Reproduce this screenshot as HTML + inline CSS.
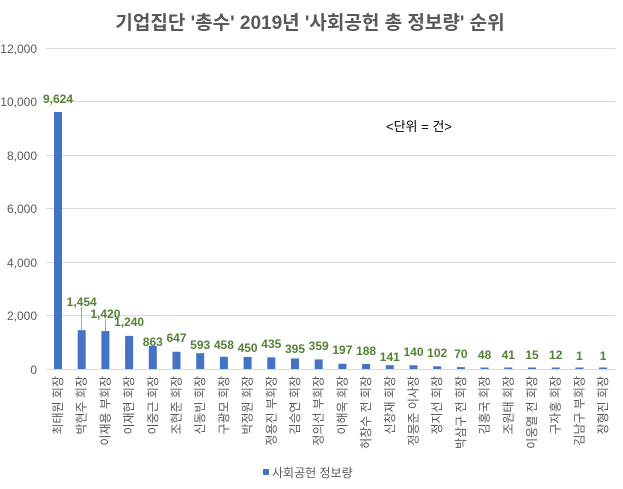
<!DOCTYPE html>
<html><head><meta charset="utf-8"><style>
body{margin:0;background:#fff;}
svg{display:block;font-family:"Liberation Sans","Noto Sans CJK KR",sans-serif;}
</style></head><body>
<svg width="623" height="489" viewBox="0 0 623 489">
<rect width="623" height="489" fill="#fff"/>
<text x="310" y="29" text-anchor="middle" font-size="19" font-weight="bold" fill="#595959">기업집단 '총수' 2019년 '사회공헌 총 정보량' 순위</text>
<g stroke="#d9d9d9" stroke-width="1">
<line x1="46" x2="615" y1="48.5" y2="48.5"/>
<line x1="46" x2="615" y1="101.5" y2="101.5"/>
<line x1="46" x2="615" y1="155.5" y2="155.5"/>
<line x1="46" x2="615" y1="208.5" y2="208.5"/>
<line x1="46" x2="615" y1="262.5" y2="262.5"/>
<line x1="46" x2="615" y1="315.5" y2="315.5"/>
<line x1="46" x2="615" y1="369.5" y2="369.5"/>
</g>
<g font-size="12" fill="#595959" text-anchor="end">
<text x="37" y="53">12,000</text>
<text x="37" y="106">10,000</text>
<text x="37" y="160">8,000</text>
<text x="37" y="213">6,000</text>
<text x="37" y="267">4,000</text>
<text x="37" y="320">2,000</text>
<text x="37" y="374">0</text>
</g>
<text x="386" y="131" font-size="13" fill="#000">&lt;단위 = 건&gt;</text>
<g id="bars" fill="#4472c4"></g>
<g stroke="#a6a6a6" stroke-width="1">
<line x1="81.5" x2="81.5" y1="307" y2="330"/>
<line x1="105.5" x2="105.5" y1="319" y2="331"/>
</g>
<g id="vals" font-size="12" font-weight="bold" fill="#548235" text-anchor="middle"></g>
<g id="labs" font-size="12" fill="#595959"></g>
<rect x="263" y="469" width="6" height="6" fill="#4472c4"/>
<text x="272" y="477" font-size="12" fill="#595959">사회공헌 정보량</text>
</svg>
<script>
var v=[9624,1454,1420,1240,863,647,593,458,450,435,395,359,197,188,141,140,102,70,48,41,15,12,1,1];
var ly=[99,302,314,322,342,338,345,345,348,344,349,346,350,351,357,352,353,354,355,355,355,355,356,356];
var n=["최태원 회장","박현주 회장","이재용 부회장","이재현 회장","이중근 회장","조현준 회장","신동빈 회장","구광모 회장","박정원 회장","정용진 부회장","김승연 회장","정의선 부회장","이해욱 회장","허창수 전 회장","신창재 회장","정몽준 이사장","정지선 회장","박삼구 전 회장","김홍국 회장","조원태 회장","이웅열 전 회장","구자홍 회장","김남구 부회장","장형진 회장"];
var ns="http://www.w3.org/2000/svg",b=document.getElementById('bars'),vl=document.getElementById('vals'),lb=document.getElementById('labs');
for(var i=0;i<24;i++){
 var cx=58+i*23.7,h=Math.max(v[i]*0.0267,1.5);
 var r=document.createElementNS(ns,'rect');r.setAttribute('x',cx-4);r.setAttribute('y',369-h);r.setAttribute('width',8);r.setAttribute('height',h);b.appendChild(r);
 var t=document.createElementNS(ns,'text');t.setAttribute('x',cx);t.setAttribute('y',ly[i]+4);t.textContent=v[i].toLocaleString('en-US');vl.appendChild(t);
 var l=document.createElementNS(ns,'text');l.setAttribute('text-anchor','end');l.setAttribute('transform','translate('+(cx+4)+',376) rotate(-90)');l.textContent=n[i];lb.appendChild(l);
}
</script>
</body></html>
